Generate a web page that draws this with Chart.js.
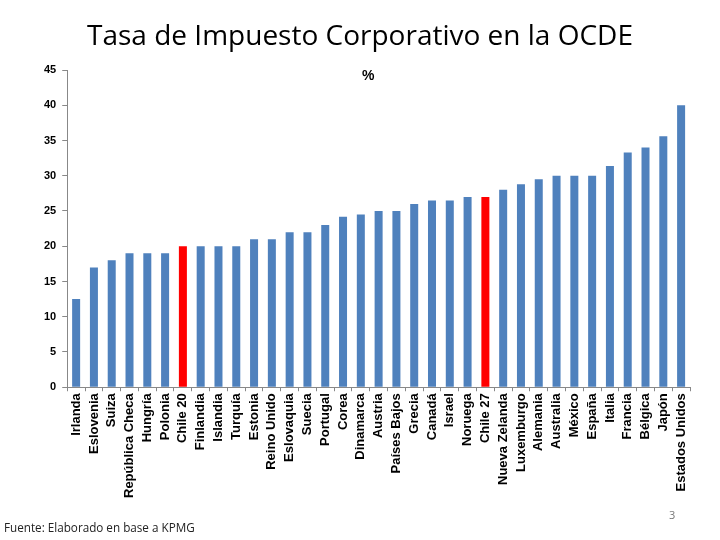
<!DOCTYPE html>
<html>
<head>
<meta charset="utf-8">
<script src="https://cdn.jsdelivr.net/npm/chart.js@4.4.0/dist/chart.umd.min.js"></script>
<style>
  body { margin: 0; background: #fff; }
  #wrap { position: relative; width: 720px; height: 540px; }
  #grafico { position: absolute; left: 0; top: 0; }
  .titulo { position: absolute; top: 15px; left: 0; width: 720px; text-align: center; font-family: "Open Sans", sans-serif; font-size: 28px; color: #000; }
  .pct { position: absolute; top: 67px; left: 362px; font-family: "Liberation Sans", Arial, sans-serif; font-size: 14px; font-weight: bold; }
  .fuente { position: absolute; top: 519px; left: 4px; font-family: "Open Sans", sans-serif; font-size: 11.7px; color: #222; }
  .pagina { position: absolute; top: 507px; left: 669px; font-family: "Open Sans", sans-serif; font-size: 11px; color: #777; }
</style>
</head>
<body>
<div id="wrap">
  <canvas id="grafico" width="720" height="540"></canvas>
  <div class="titulo">Tasa de Impuesto Corporativo en la OCDE</div>
  <div class="pct">%</div>
  <div class="fuente">Fuente: Elaborado en base a KPMG</div>
  <div class="pagina">3</div>
</div>
<script>
const paises = ['Irlanda', 'Eslovenia', 'Suiza', 'República Checa', 'Hungría', 'Polonia', 'Chile 20',
    'Finlandia', 'Islandia', 'Turquía', 'Estonia', 'Reino Unido', 'Eslovaquia', 'Suecia', 'Portugal',
    'Corea', 'Dinamarca', 'Austria', 'Países Bajos', 'Grecia', 'Canadá', 'Israel', 'Noruega', 'Chile 27',
    'Nueva Zelanda', 'Luxemburgo', 'Alemania', 'Australia', 'México', 'España', 'Italia', 'Francia',
    'Bélgica', 'Japón', 'Estados Unidos'];

const tasas = [12.5, 17, 18, 19, 19, 19, 20,
    20, 20, 20, 21, 21, 22, 22, 23,
    24.2, 24.5, 25, 25, 26, 26.5, 26.5, 27, 27,
    28, 28.8, 29.5, 30, 30, 30, 31.4, 33.3,
    34, 35.6, 40];

const resaltados = ['Chile 20', 'Chile 27'];

const azul = '#4F81BD';
const rojo = '#FF0000';

const colores = paises.map(p => resaltados.includes(p) ? rojo : azul);

new Chart(document.getElementById('grafico'), {
    type: 'bar',
    data: {
        labels: paises,
        datasets: [{ data: tasas, backgroundColor: colores, barPercentage: 0.9, categoryPercentage: 0.5 }]
    },
    options: {
        responsive: false,
        animation: false,
        layout: { padding: { top: 70, left: 38, right: 30, bottom: 40 } },
        plugins: { legend: { display: false }, tooltip: { enabled: false } },
        scales: {
            x: {
                grid: { display: true, drawOnChartArea: false, tickLength: 4, color: '#888' },
                border: { color: '#888' },
                ticks: {
                    autoSkip: false, minRotation: 90, maxRotation: 90, padding: 2,
                    color: '#000', font: { family: 'Liberation Sans', size: 13, weight: 'bold' }
                }
            },
            y: {
                min: 0, max: 45,
                grid: { display: true, drawOnChartArea: false, tickLength: 5, color: '#888' },
                border: { color: '#888' },
                ticks: {
                    stepSize: 5, padding: 6,
                    color: '#000', font: { family: 'Liberation Sans', size: 11, weight: 'bold' }
                }
            }
        }
    }
});
</script>
</body>
</html>
